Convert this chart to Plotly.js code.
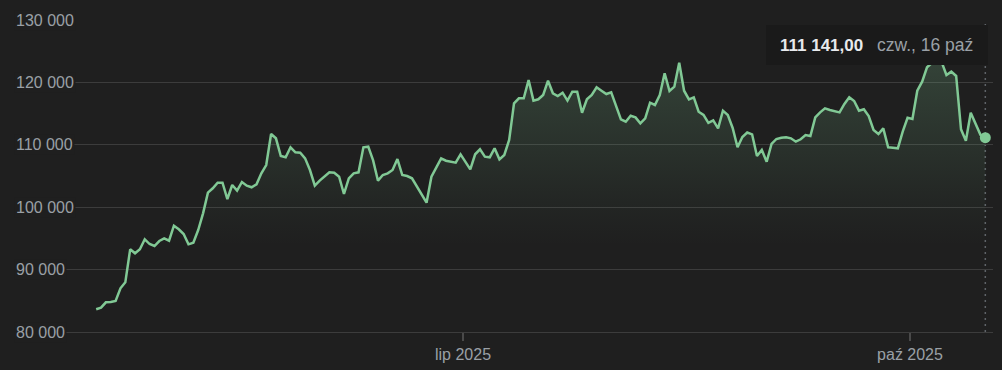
<!DOCTYPE html>
<html>
<head>
<meta charset="utf-8">
<script src="https://cdn.plot.ly/plotly-3.0.1.min.js"></script>
<style>
  html, body { margin: 0; padding: 0; background: #1f1f1f; }
  #chart { width: 1002px; height: 370px; }
</style>
</head>
<body>
<div id="chart"></div>
<script>
// ---- data (daily, 16 kwi 2025 -> 16 paź 2025) ----
const startDay = '2025-04-16';
const prices = [
  83640, 83900, 84760, 84800, 84970, 87000, 87960, 93250, 92610, 93250,
  94860, 94100, 93780, 94580, 95000, 94630, 97030, 96460, 95700, 94050,
  94310, 96350, 99020, 102330, 103030, 103930, 103930, 101310, 103560, 102650,
  104040, 103450, 103190, 103670, 105430, 106760, 111730, 111040, 108200, 108000,
  109600, 108800, 108730, 107830, 105960, 103450, 104250, 104890, 105600, 105530,
  104890, 102120, 104630, 105430, 105590, 109600, 109700, 107500, 104250, 105160,
  105430, 105960, 107720, 105160, 105000, 104630, 103400, 102100, 100720, 104890,
  106400, 107830, 107450, 107300, 107130, 108480, 107300, 106070, 108480, 109280,
  108100, 108000, 109440, 107670, 108370, 110770, 116650, 117450, 117450, 120380,
  117080, 117290, 117980, 120270, 118250, 117820, 118350, 117080, 118510, 118510,
  115140, 117290, 117980, 119210, 118670, 118140, 118410, 116110, 114080, 113700,
  114660, 114400, 113440, 114240, 116750, 116380, 117980, 121460, 118620, 119310,
  123160, 118670, 117290, 117610, 115300, 114780, 113500, 113900, 112640, 115470,
  114780, 112700, 109600, 111250, 111970, 111680, 108200, 109170, 107290, 110130,
  110930, 111140, 111200, 111040, 110500, 110880, 111570, 111410, 114400, 115200,
  115850, 115580, 115420, 115200, 116540, 117610, 117020, 115470, 115690, 114620,
  112370, 111730, 112640, 109600, 109540, 109440, 112110, 114340, 114130, 118670,
  120110, 122420, 123100, 125500, 123300, 121190, 121720, 121030, 112480, 110660,
  115140, 113330, 111600, 111141
];
const yTickVals = [80000, 90000, 100000, 110000, 120000, 130000];
const yTickText = ['80 000', '90 000', '100 000', '110 000', '120 000', '130 000'];
const xTickVals = ['2025-07-01', '2025-10-01'];
const xTickText = ['lip 2025', 'paź 2025'];
const tooltipDate = 'czw., 16 paź';

// ---- build dates (one point per day, at midday) ----
const DAY = 86400000;
function iso(ms) { return new Date(ms).toISOString().slice(0, 16).replace('T', ' '); }
const t0 = Date.parse(startDay + 'T12:00:00Z');
const dates = prices.map((_, i) => iso(t0 + i * DAY));
const lastX = dates[dates.length - 1];
const lastY = prices[prices.length - 1];

// ---- geometry helpers ----
const BG = '#1f1f1f';
const L = 66, R = 993, T = 20, B = 332;
const W = R - L, H = B - T;
const xp = px => (px - L) / W;
const yp = py => (B - py) / H;
const msPerPx = (Date.parse('2025-10-01T00:00:00Z') - Date.parse('2025-07-01T00:00:00Z')) / (910 - 463);
const xLeft = Date.parse('2025-07-01T00:00:00Z') - (463 - L) * msPerPx;
const xRight = xLeft + W * msPerPx;

function fmtPL(v) {
  const s = Math.round(v).toString().replace(/\B(?=(\d{3})+(?!\d))/g, ' ');
  return s + ',00';
}

const FONT = '"Liberation Sans", Arial, sans-serif';
const GREEN = '#81c995';

const traces = [
  {
    x: dates, y: prices, type: 'scatter', mode: 'lines',
    line: { color: GREEN, width: 2.5 },
    fill: 'tozeroy',
    fillgradient: {
      type: 'vertical',
      start: 80000, stop: 126000,
      colorscale: [
        [0, 'rgba(129,201,149,0)'],
        [0.3, 'rgba(129,201,149,0.0)'],
        [0.45, 'rgba(129,201,149,0.04)'],
        [1, 'rgba(129,201,149,0.23)']
      ]
    },
    hoverinfo: 'skip'
  },
  {
    x: [lastX], y: [lastY], type: 'scatter', mode: 'markers',
    marker: { color: GREEN, size: 11 },
    hoverinfo: 'skip'
  }
];

const annotations = yTickVals.map((v, i) => ({
  xref: 'paper', yref: 'y', x: xp(14), y: v,
  xanchor: 'left', yanchor: 'middle', showarrow: false,
  text: yTickText[i], bgcolor: BG, borderpad: 1,
  font: { family: FONT, size: 16, color: '#9aa0a6' }
}));
annotations.push({
  xref: 'paper', yref: 'paper', x: xp(865), y: yp(45),
  xanchor: 'right', yanchor: 'middle', showarrow: false,
  text: fmtPL(lastY),
  font: { family: FONT, size: 17, color: '#e8eaed', weight: 'bold' }
});
annotations.push({
  xref: 'paper', yref: 'paper', x: xp(875), y: yp(45),
  xanchor: 'left', yanchor: 'middle', showarrow: false,
  text: tooltipDate,
  font: { family: FONT, size: 17.5, color: '#9aa0a6' }
});

const layout = {
  width: 1002, height: 370,
  paper_bgcolor: BG, plot_bgcolor: BG,
  margin: { l: L, r: 1002 - R, t: T, b: 370 - B },
  showlegend: false,
  hovermode: false,
  font: { family: FONT, size: 16, color: '#9aa0a6' },
  xaxis: {
    type: 'date',
    range: [iso(xLeft), iso(xRight)],
    showgrid: false, zeroline: false,
    showline: true, linecolor: '#3c3c3c', linewidth: 1,
    tickmode: 'array', tickvals: xTickVals, ticktext: xTickText,
    ticks: 'outside', ticklen: 8, tickwidth: 2, tickcolor: '#4a4a4a',
    tickfont: { family: FONT, size: 16, color: '#9aa0a6' }
  },
  yaxis: {
    range: [80000, 130000],
    tickmode: 'array', tickvals: yTickVals,
    showticklabels: false, ticks: '',
    showgrid: true, gridcolor: '#3c3c3c', gridwidth: 1,
    zeroline: false, showline: false
  },
  shapes: [
    {
      type: 'line', xref: 'x', yref: 'paper', x0: lastX, x1: lastX, y0: 0, y1: 1,
      line: { color: '#5f6368', width: 1.5, dash: '2px,4px' }, layer: 'below'
    },
    {
      type: 'rect', xref: 'paper', yref: 'paper',
      x0: xp(766), x1: xp(988), y0: yp(65), y1: yp(25),
      fillcolor: '#1a1a1a', line: { width: 0 }, layer: 'above'
    }
  ],
  annotations: annotations
};

Plotly.newPlot('chart', traces, layout, { staticPlot: true, displayModeBar: false });
</script>
</body>
</html>
